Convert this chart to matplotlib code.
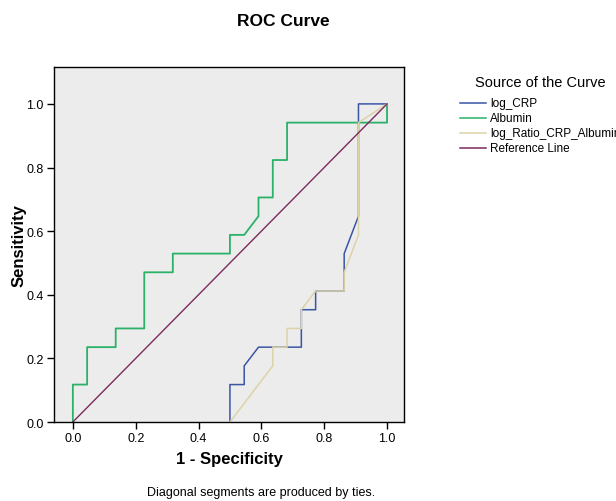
import matplotlib.pyplot as plt
import numpy as np
from matplotlib.lines import Line2D

plt.rcParams["font.family"] = ["Liberation Sans", "DejaVu Sans"]

# 22 negatives, 17 positives
n_neg = 22
n_pos = 17

crp_x = np.array([11, 11, 12, 12, 13, 16, 16, 17, 17, 19, 19, 20, 20, 22]) / n_neg
crp_y = np.array([0, 2, 2, 3, 4, 4, 6, 6, 7, 7, 9, 11, 17, 17]) / n_pos

alb_x = np.array([0, 0, 1, 1, 3, 3, 5, 5, 7, 7, 11, 11, 12, 13, 13, 14, 14, 15, 15, 22, 22]) / n_neg
alb_y = np.array([0, 2, 2, 4, 4, 5, 5, 8, 8, 9, 9, 10, 10, 11, 12, 12, 14, 14, 16, 16, 17]) / n_pos

ratio_x = np.array([11, 14, 14, 15, 15, 16, 16, 17, 19, 19, 20, 20, 22]) / n_neg
ratio_y = np.array([0, 3, 4, 4, 5, 5, 6, 7, 7, 8, 10, 16, 17]) / n_pos

ref_x = [0, 1]
ref_y = [0, 1]

W, H = 616, 502
fig = plt.figure(figsize=(W / 100, H / 100), dpi=100)
ax = fig.add_axes([54 / W, 1 - 423 / H, 350 / W, 355 / H])
ax.set_facecolor("#ececec")

l1, = ax.plot(crp_x, crp_y, color="#3a55a4", linewidth=1.1, label="log_CRP")
l2, = ax.plot(alb_x, alb_y, color="#2bb168", linewidth=1.3, label="Albumin")
l3, = ax.plot(ratio_x, ratio_y, color="#dcd3a8", linewidth=1.1, label="log_Ratio_CRP_Albumin")
l4, = ax.plot(ref_x, ref_y, color="#7c2b5e", linewidth=1.0, label="Reference Line")

ax.set_xlim(-0.06, 1.054)
ax.set_ylim(0, 1.116)
ax.set_xticks([0, 0.2, 0.4, 0.6, 0.8, 1.0])
ax.set_yticks([0, 0.2, 0.4, 0.6, 0.8, 1.0])
ax.xaxis.set_major_formatter(plt.FormatStrFormatter("%.1f"))
ax.yaxis.set_major_formatter(plt.FormatStrFormatter("%.1f"))
ax.tick_params(labelsize=9, length=5, width=1, color="black", pad=2.5)
for s in ax.spines.values():
    s.set_linewidth(1)
    s.set_color("black")

ax.set_xlabel("1 - Specificity", fontsize=12, fontweight="bold", labelpad=5)
ax.set_ylabel("Sensitivity", fontsize=12, fontweight="bold", labelpad=0)

fig.text(283 / W, 1 - 22 / H, "ROC Curve", ha="center", va="center",
         fontsize=12.5, fontweight="bold")
fig.text(261 / W, 1 - 493 / H, "Diagonal segments are produced by ties.",
         ha="center", va="center", fontsize=9)

# legend, laid out by hand (last label runs off the right edge, as in the original)
fig.text(540 / W, 1 - 83 / H, "Source of the Curve", ha="center", va="center",
         fontsize=10.5)
for i, ln in enumerate([l1, l2, l3, l4]):
    y = 1 - (104 + 15 * i) / H
    fig.add_artist(Line2D([460 / W, 486 / W], [y, y], color=ln.get_color(),
                          linewidth=1.1, transform=fig.transFigure))
    fig.text(490 / W, y, ln.get_label(), ha="left", va="center", fontsize=8.5)

fig.savefig("out.png", dpi=100)
